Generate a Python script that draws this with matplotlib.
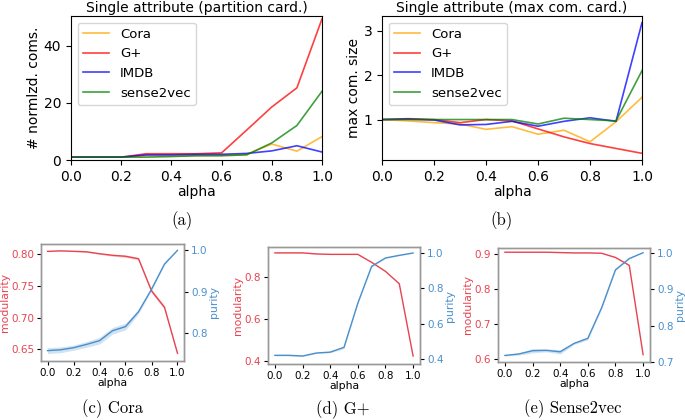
import numpy as np
import matplotlib
matplotlib.use("Agg")
import matplotlib.pyplot as plt

alpha = [0.0, 0.1, 0.2, 0.3, 0.4, 0.5, 0.6, 0.7, 0.8, 0.9, 1.0]
datasets = ["Cora", "G+", "IMDB", "sense2vec"]
ds_colors = ["orange", "red", "blue", "green"]

# (a) normalized number of communities
part_cora = [1.0, 1.0, 1.0, 1.5, 1.5, 1.5, 1.6, 2.0, 5.6, 3.1, 8.2]
part_gplus = [1.0, 1.0, 1.0, 2.2, 2.2, 2.2, 2.5, 10.5, 18.6, 25.3, 49.5]
part_imdb = [1.0, 1.0, 1.0, 1.8, 1.8, 2.0, 2.0, 2.3, 3.2, 5.0, 2.8]
part_s2v = [1.0, 1.0, 1.0, 1.0, 1.2, 1.5, 1.5, 1.8, 6.0, 12.1, 24.1]

# (b) max community size
max_cora = [1.0, 0.97, 0.93, 0.9, 0.78, 0.84, 0.67, 0.76, 0.5, 0.95, 1.5]
max_gplus = [1.0, 1.02, 1.0, 0.93, 1.0, 0.97, 0.79, 0.61, 0.46, 0.35, 0.24]
max_imdb = [1.0, 1.01, 0.99, 0.88, 0.89, 0.96, 0.85, 0.96, 1.04, 0.96, 3.18]
max_s2v = [1.0, 1.0, 1.0, 1.0, 1.0, 1.0, 0.9, 1.03, 1.0, 0.97, 2.1]

# (c) Cora
cora_mod = [0.8042, 0.805, 0.8043, 0.8035, 0.8005, 0.798, 0.7965, 0.7926, 0.742, 0.716, 0.6437]
cora_mod_sd = [0.0005, 0.0005, 0.0005, 0.0008, 0.001, 0.0015, 0.0018, 0.002, 0.003, 0.003, 0.001]
cora_pur = [0.758, 0.760, 0.765, 0.773, 0.782, 0.806, 0.816, 0.852, 0.906, 0.967, 1.0]
cora_pur_sd = [0.007, 0.007, 0.006, 0.007, 0.008, 0.008, 0.008, 0.005, 0.003, 0.002, 0.0]

# (d) G+
gp_mod = [0.915, 0.915, 0.915, 0.910, 0.908, 0.908, 0.908, 0.870, 0.827, 0.768, 0.424]
gp_mod_sd = [0.001] * 11
gp_pur = [0.423, 0.423, 0.419, 0.436, 0.441, 0.468, 0.717, 0.925, 0.972, 0.987, 1.0]
gp_pur_sd = [0.003, 0.003, 0.003, 0.003, 0.004, 0.006, 0.005, 0.004, 0.002, 0.002, 0.0]

# (e) Sense2vec
s2v_mod = [0.905, 0.905, 0.905, 0.905, 0.904, 0.903, 0.903, 0.902, 0.890, 0.8675, 0.613]
s2v_mod_sd = [0.0005] * 11
s2v_pur = [0.718, 0.722, 0.731, 0.732, 0.728, 0.751, 0.765, 0.849, 0.953, 0.984, 1.0]
s2v_pur_sd = [0.002, 0.003, 0.006, 0.004, 0.006, 0.003, 0.004, 0.003, 0.002, 0.001, 0.0]

W, H = 685, 420
fig = plt.figure(figsize=(W / 100, H / 100), dpi=100)


def rect(l, r, t, b):
    return [l / W, (H - b) / H, (r - l) / W, (b - t) / H]


# ---------- top panels ----------
def top_panel(r, series, title, ylabel, ylim=None, yticks=None):
    ax = fig.add_axes(r)
    for vals, name, c in zip(series, datasets, ds_colors):
        ax.plot(alpha, vals, color=c, alpha=0.75, lw=1.2, label=name)
    ax.set_xlim(0, 1)
    if ylim is not None:
        ax.set_ylim(*ylim)
    if yticks is not None:
        ax.set_yticks(yticks)
    ax.set_xticks([0.0, 0.2, 0.4, 0.6, 0.8, 1.0])
    ax.tick_params(labelsize=10, length=3.5)
    ax.set_xlabel("alpha", fontsize=10, labelpad=1)
    ax.set_ylabel(ylabel, fontsize=10, labelpad=2)
    ax.set_title(title, fontsize=10, pad=3)
    ax.legend(loc="upper left", fontsize=9.5, handlelength=2.0, borderaxespad=0.5)
    return ax


top_panel(rect(71, 322, 16, 160), [part_cora, part_gplus, part_imdb, part_s2v],
          "Single attribute (partition card.)", "# normlzd. coms.",
          ylim=(0, 50.5), yticks=[0, 20, 40])
top_panel(rect(382, 642, 16, 160), [max_cora, max_gplus, max_imdb, max_s2v],
          "Single attribute (max com. card.)", "max com. size",
          ylim=(0.09, 3.33), yticks=[1, 2, 3])

# ---------- bottom panels ----------
RED = "#e8434f"
BLUE = "#4a8fcb"


def bottom_panel(r, mod, mod_sd, pur, pur_sd, mod_lim, mod_ticks, pur_lim, pur_ticks, fmt_m, fmt_p):
    ax = fig.add_axes(r)
    m = np.array(mod)
    ms = np.array(mod_sd)
    ax.plot(alpha, m, color=RED, lw=1.0)
    ax.fill_between(alpha, m - ms, m + ms, color=RED, alpha=0.25, lw=0)
    ax.set_ylim(*mod_lim)
    ax.set_yticks(mod_ticks)
    ax.set_yticklabels([fmt_m.format(v) for v in mod_ticks])
    ax.set_xlim(-0.05, 1.05)
    ax.set_xticks([0.0, 0.2, 0.4, 0.6, 0.8, 1.0])
    ax.tick_params(labelsize=7.5, length=3, pad=2)
    ax.tick_params(axis="y", labelcolor=RED)
    ax.set_xlabel("alpha", fontsize=7.8, labelpad=0)
    ax.set_ylabel("modularity", fontsize=7.8, color=RED, labelpad=1)
    ax2 = ax.twinx()
    p = np.array(pur)
    ps = np.array(pur_sd)
    ax2.plot(alpha, p, color=BLUE, lw=1.0)
    ax2.fill_between(alpha, p - ps, p + ps, color=BLUE, alpha=0.25, lw=0)
    ax2.set_ylim(*pur_lim)
    ax2.set_yticks(pur_ticks)
    ax2.set_yticklabels([fmt_p.format(v) for v in pur_ticks])
    ax2.tick_params(labelsize=7.5, length=3, pad=2, labelcolor=BLUE)
    ax2.set_ylabel("purity", fontsize=7.8, color=BLUE, labelpad=1)
    for a in (ax, ax2):
        for s in a.spines.values():
            s.set_color("#999999")
            s.set_linewidth(1.0)
    return ax


bottom_panel(rect(41, 184, 244, 361), cora_mod, cora_mod_sd, cora_pur, cora_pur_sd,
             (0.6316, 0.8158), [0.65, 0.70, 0.75, 0.80], (0.733, 1.0153), [0.8, 0.9, 1.0],
             "{:.2f}", "{:.1f}")
bottom_panel(rect(268, 420, 247, 364), gp_mod, gp_mod_sd, gp_pur, gp_pur_sd,
             (0.386, 0.943), [0.4, 0.6, 0.8], (0.374, 1.034), [0.4, 0.6, 0.8, 1.0],
             "{:.1f}", "{:.1f}")
bottom_panel(rect(498, 650, 248, 362), s2v_mod, s2v_mod_sd, s2v_pur, s2v_pur_sd,
             (0.592, 0.917), [0.6, 0.7, 0.8, 0.9], (0.703, 1.013), [0.7, 0.8, 0.9, 1.0],
             "{:.1f}", "{:.1f}")

# ---------- captions ----------
captions = ["(a)", "(b)", "(c) Cora", "(d) G+", "(e) Sense2vec"]
cap_pos = [(182, 221), (502, 221), (112, 409), (343, 410), (573, 409)]
for txt, (x, y) in zip(captions, cap_pos):
    fig.text(x / W, 1 - y / H, txt, ha="center", va="center", fontsize=12,
             family="cmr10")

fig.savefig("out.png", dpi=100)
